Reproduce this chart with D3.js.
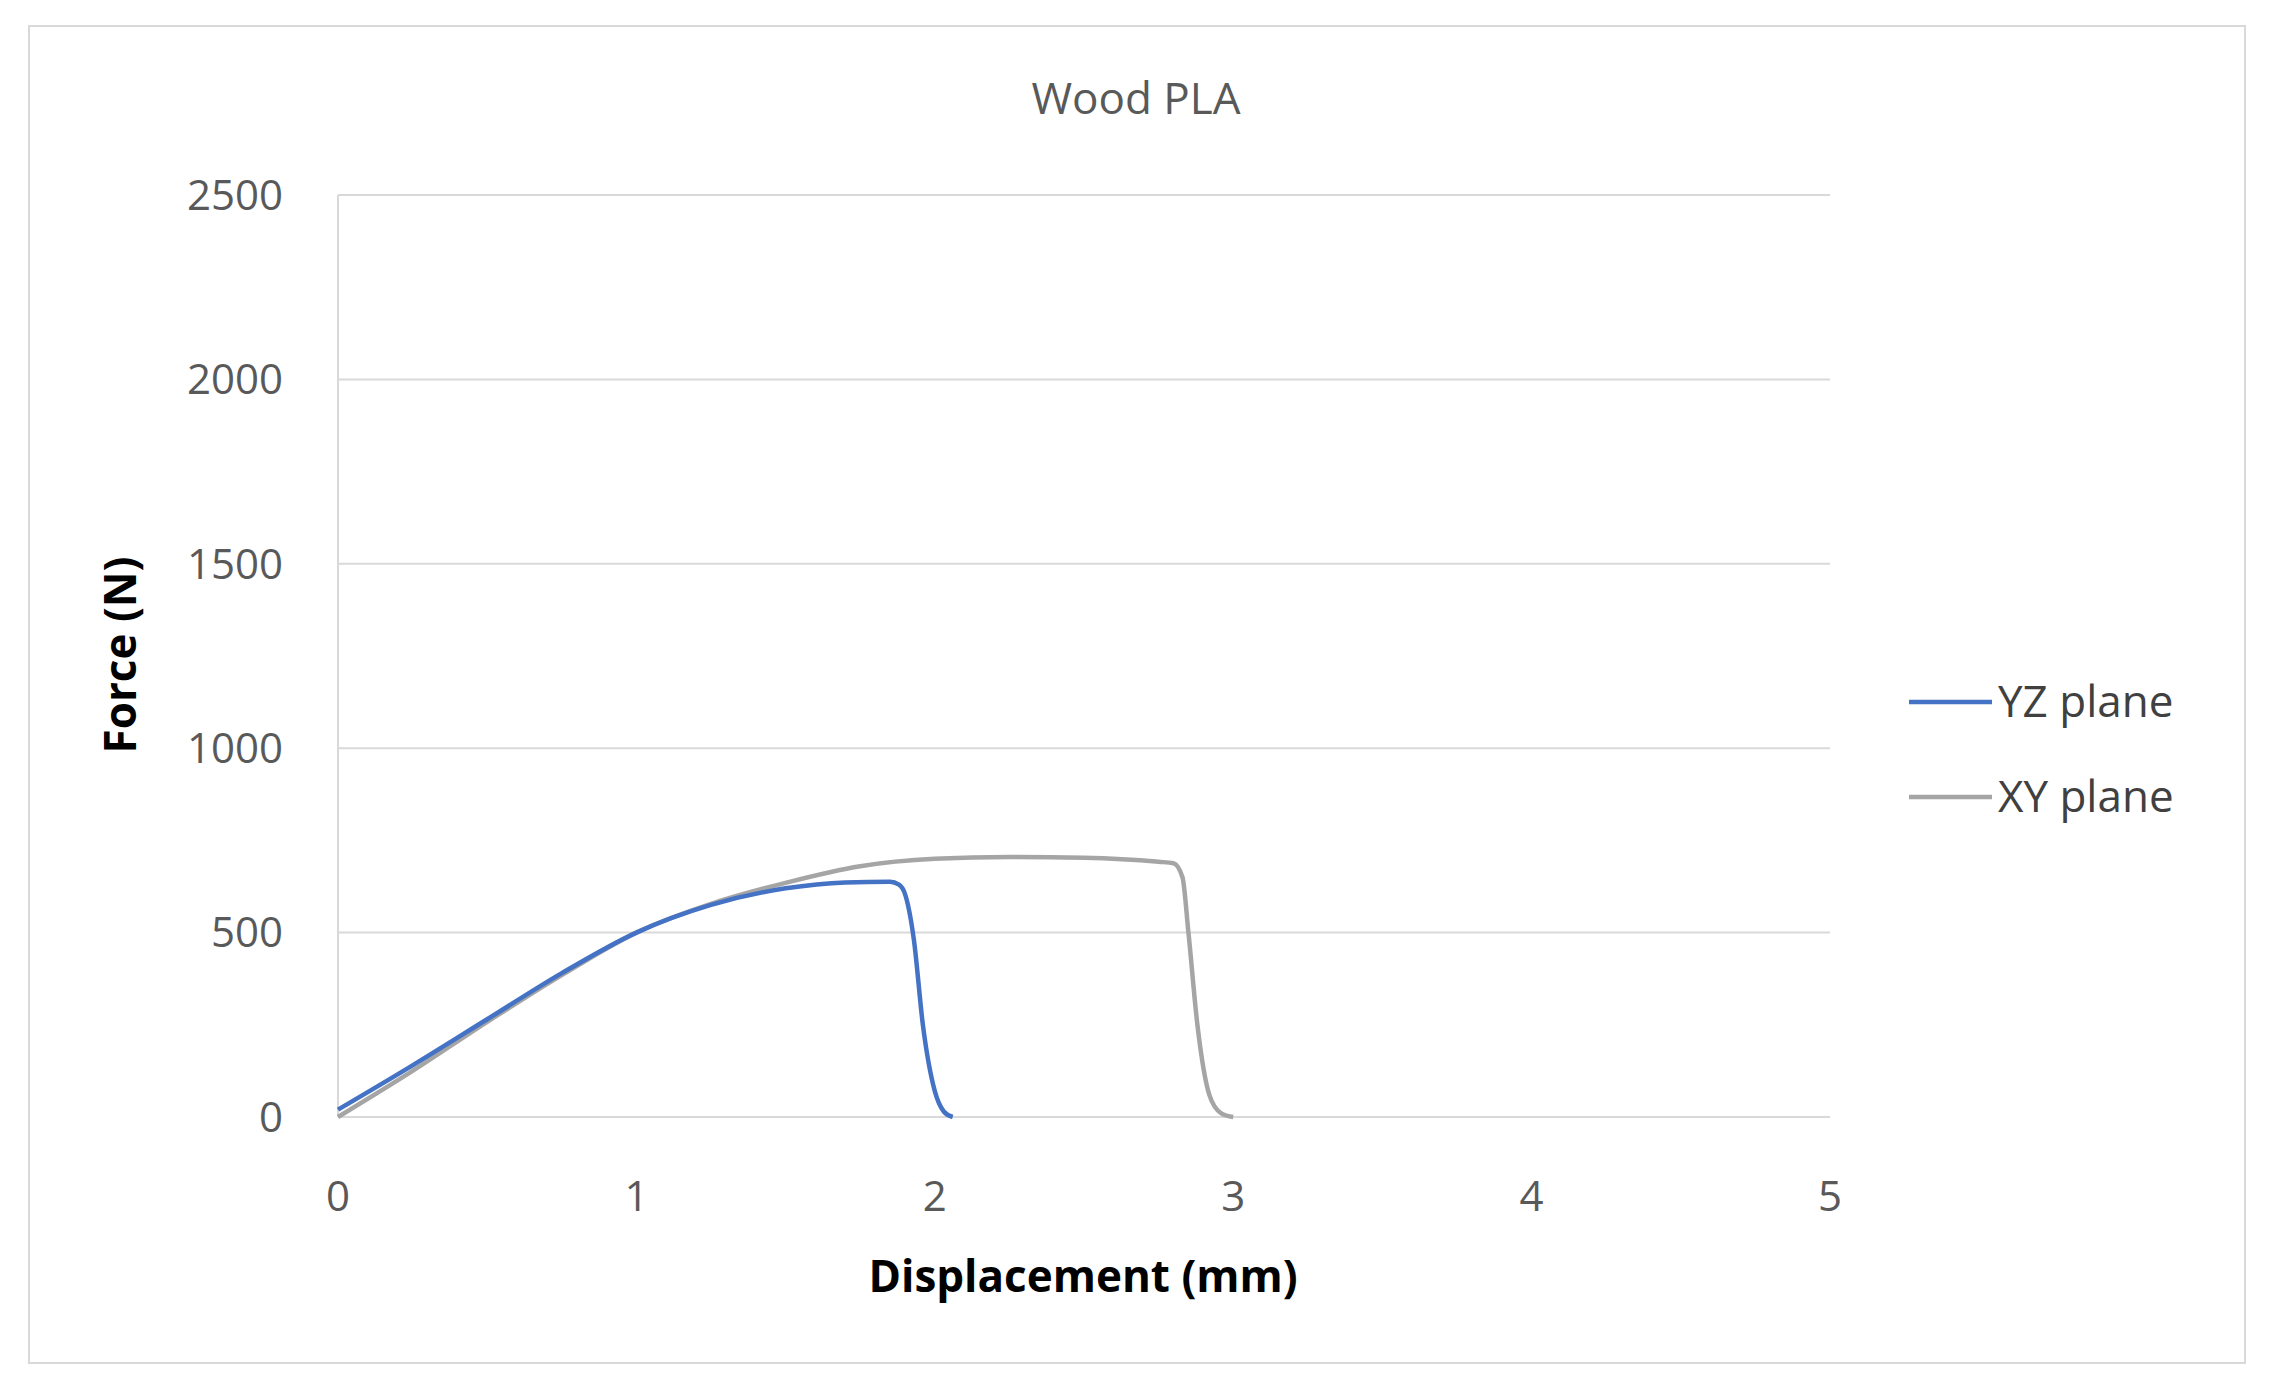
<!DOCTYPE html>
<html>
<head>
<meta charset="utf-8">
<script src="https://cdn.jsdelivr.net/npm/d3@7"></script>
<style>
  body { margin: 0; background: #fff; }
  text { font-family: "Open Sans", sans-serif; }
</style>
</head>
<body>
<svg id="chart" width="2270" height="1387"></svg>
<script>
//data
const yzX = [0, 0.25, 0.5, 0.75, 1.0, 1.25, 1.5, 1.7, 1.85, 1.88, 1.9, 1.93, 1.96, 2.0, 2.03, 2.06];
const yzF = [20, 140, 265, 390, 500, 575, 620, 636, 638, 630, 605, 480, 250, 70, 15, 0];
const xyX = [0, 0.25, 0.5, 0.75, 1.0, 1.25, 1.5, 1.75, 2.0, 2.25, 2.5, 2.75, 2.8, 2.83, 2.85, 2.88, 2.92, 2.96, 3.0];
const xyF = [0, 125, 258, 385, 500, 578, 635, 680, 700, 705, 703, 692, 688, 650, 500, 250, 60, 10, 0];
const xTicks = [0, 1, 2, 3, 4, 5];
const yTicks = [0, 500, 1000, 1500, 2000, 2500];
const seriesNames = ["YZ plane", "XY plane"];
const seriesColors = ["#4472c4", "#a5a5a5"];

const svg = d3.select("#chart");

//outer border
svg.append("rect").attr("x", 29).attr("y", 26).attr("width", 2216).attr("height", 1337)
  .attr("fill", "#fff").attr("stroke", "#d9d9d9").attr("stroke-width", 2);

const x = d3.scaleLinear().domain([0, 5]).range([338, 1830]);
const y = d3.scaleLinear().domain([0, 2500]).range([1117, 195]);

//gridlines
svg.append("g").selectAll("line").data(yTicks).join("line")
  .attr("x1", x(0)).attr("x2", x(5))
  .attr("y1", d => y(d)).attr("y2", d => y(d))
  .attr("stroke", "#d9d9d9").attr("stroke-width", 2);

//y axis line
svg.append("line").attr("x1", x(0)).attr("x2", x(0)).attr("y1", y(2500)).attr("y2", y(0))
  .attr("stroke", "#d9d9d9").attr("stroke-width", 2);

//tick labels
svg.append("g").selectAll("text").data(yTicks).join("text")
  .attr("x", 283).attr("y", d => y(d)).attr("dy", "0.35em")
  .attr("text-anchor", "end").attr("font-size", 42).attr("fill", "#595959")
  .text(d => d);
svg.append("g").selectAll("text").data(xTicks).join("text")
  .attr("x", d => x(d)).attr("y", 1196).attr("dy", "0.35em")
  .attr("text-anchor", "middle").attr("font-size", 42).attr("fill", "#595959")
  .text(d => d);

//titles
svg.append("text").attr("x", 1136).attr("y", 99).attr("dy", "0.35em")
  .attr("text-anchor", "middle").attr("font-size", 44).attr("fill", "#595959").text("Wood PLA");
svg.append("text").attr("x", 1083).attr("y", 1277).attr("dy", "0.35em")
  .attr("text-anchor", "middle").attr("font-size", 44).attr("font-weight", "bold").attr("fill", "#000")
  .text("Displacement (mm)");
svg.append("text").attr("transform", "translate(121,655) rotate(-90)").attr("dy", "0.35em")
  .attr("text-anchor", "middle").attr("font-size", 44).attr("font-weight", "bold").attr("fill", "#000")
  .text("Force (N)");

//series
const line = d3.line().x(d => x(d[0])).y(d => y(d[1])).curve(d3.curveMonotoneX);
const series = [d3.zip(yzX, yzF), d3.zip(xyX, xyF)];
[1, 0].forEach(i => {
  svg.append("path").attr("d", line(series[i]))
    .attr("fill", "none").attr("stroke", seriesColors[i]).attr("stroke-width", 4.5)
    .attr("stroke-linejoin", "round");
});

//legend
seriesNames.forEach((name, i) => {
  const ly = 702 + i * 95;
  svg.append("line").attr("x1", 1909).attr("x2", 1992).attr("y1", ly).attr("y2", ly)
    .attr("stroke", seriesColors[i]).attr("stroke-width", 4.5);
  svg.append("text").attr("x", 1998).attr("y", ly).attr("dy", "0.35em")
    .attr("font-size", 44).attr("fill", "#404040").text(name);
});
</script>
</body>
</html>
